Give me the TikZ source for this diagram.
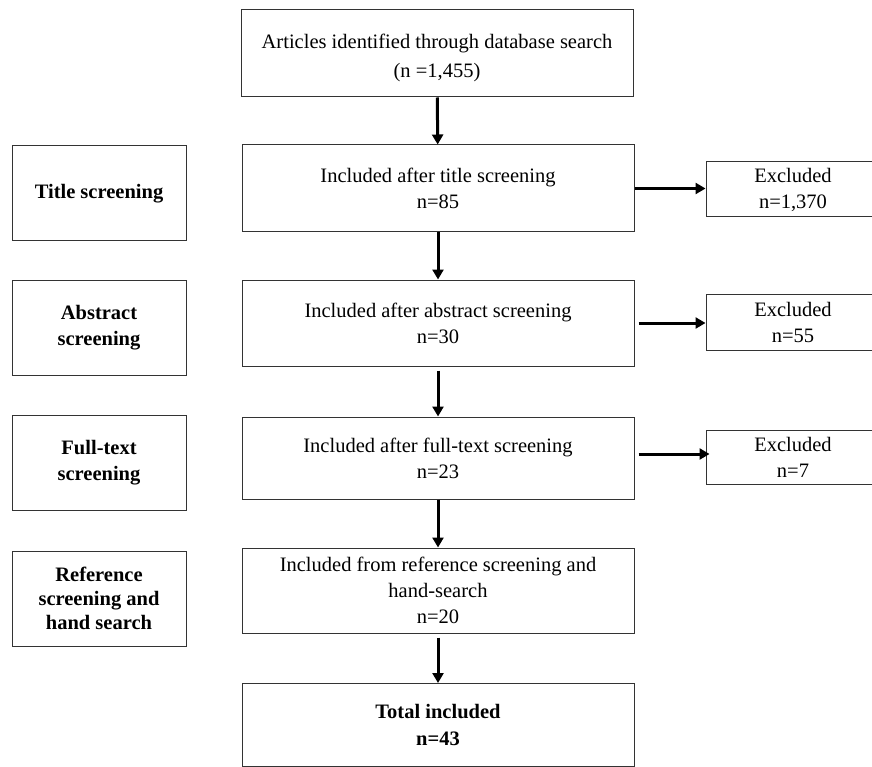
\documentclass[tikz,border=0pt]{standalone}
\usepackage{fontspec}
\setmainfont{Liberation Serif}
\usetikzlibrary{arrows.meta}
\begin{document}
\begin{tikzpicture}[x=1pt,y=-1pt,
  box/.style={draw=black!80, line width=1pt, align=center, inner sep=0pt,
    font=\fontsize{20.5}{26}\selectfont},
  midbox/.style={box, minimum width=392pt},
  sidebox/.style={box, minimum width=174pt, minimum height=95pt, font=\fontsize{20.5}{26.5}\selectfont\bfseries},
  exbox/.style={box, minimum width=174pt},
  arr/.style={line width=3pt, -{Triangle[length=10pt,width=11pt]}}]
\useasboundingbox (0,0) rectangle (872,767);
% centre column
\node[midbox, minimum height=87pt] (a) at (437,53.5) {};
\node[align=center, inner sep=0pt, font=\fontsize{20.5}{29}\selectfont] (atext) at (437,57.5) {Articles identified through database search\\(n =1,455)};
\node[midbox, minimum height=87pt] (b) at (438,188.5) {Included after title screening\\n=85};
\node[midbox, minimum height=86pt] (c) at (438,323) {Included after abstract screening\\n=30};
\node[midbox, minimum height=82pt] (d) at (438,458) {Included after full-text screening\\n=23};
\node[midbox, minimum height=85pt] (e) at (438,590.5) {Included from reference screening and\\hand-search\\n=20};
\node[midbox, minimum height=83pt, font=\fontsize{20.5}{27}\selectfont\bfseries] (f) at (438,725) {Total included\\n=43};
% left column
\node[sidebox] (l1) at (99,193.5) {Title screening};
\node[sidebox] (l2) at (99,327.5) {Abstract\\screening};
\node[sidebox] (l3) at (99,462.5) {Full-text\\screening};
\node[sidebox, font=\fontsize{20.5}{24}\selectfont\bfseries] (l4) at (99,598.5) {Reference\\screening and\\hand search};
% excluded
\node[exbox, minimum height=55pt] (x1) at (793,189.5) {Excluded\\n=1,370};
\node[exbox, minimum height=56pt] (x2) at (793,322) {Excluded\\n=55};
\node[exbox, minimum height=54pt] (x3) at (793,457) {Excluded\\n=7};
% arrows
\coordinate (d3) at ([yshift=4pt]d.east);
\coordinate (x3in) at ([xshift=4pt]x3.west |- d3);
\draw[arr] (a) -- (b);
\draw[arr] (b) -- (c);
\draw[arr, shorten <=4pt] (c) -- (d);
\draw[arr] (d) -- (e);
\draw[arr, shorten <=4pt] (e) -- (f);
\draw[arr] (b.east) -- (x1.west |- b.east);
\draw[arr, shorten <=4pt] (c.east) -- (x2.west |- c.east);
\draw[arr, shorten <=4pt] (d3) -- (x3in);
\end{tikzpicture}
\end{document}
